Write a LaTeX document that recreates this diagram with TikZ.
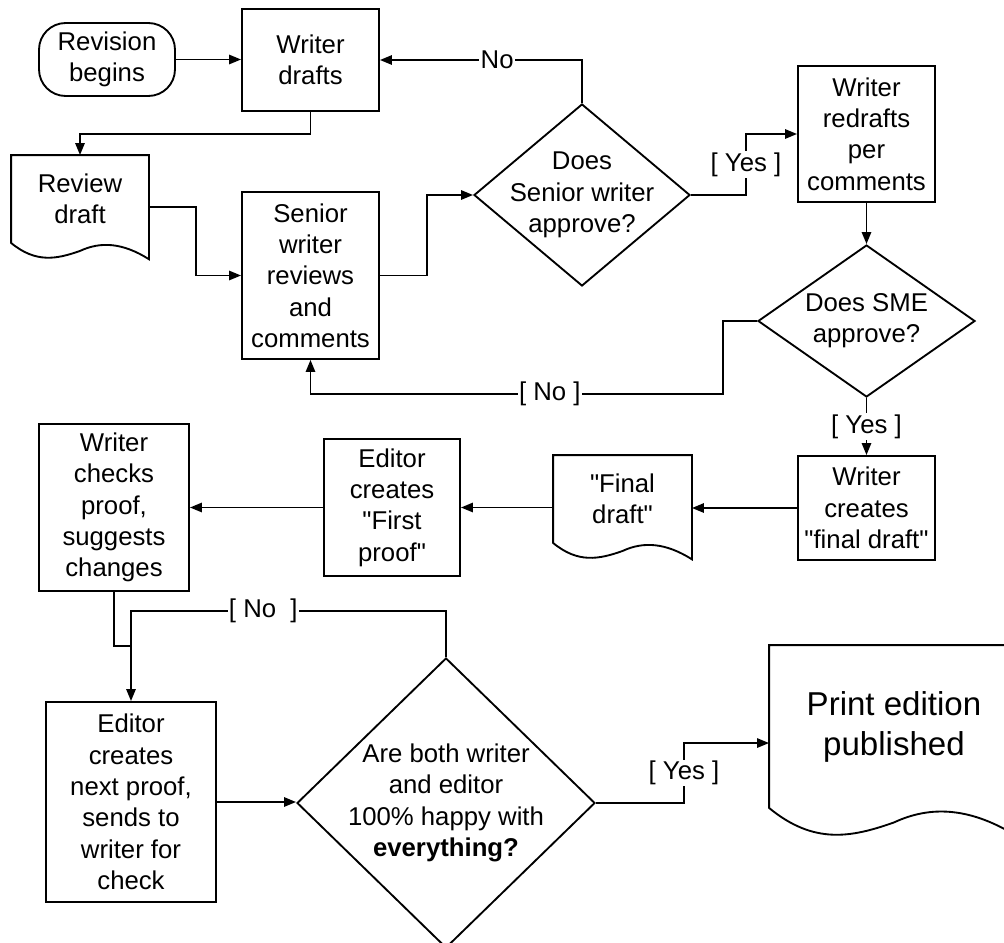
\documentclass[tikz,border=0pt]{standalone}
\usepackage{fontspec}
\setmainfont{Liberation Sans}
\usetikzlibrary{shapes.geometric,arrows.meta,calc}

\newcommand{\boxfont}{\fontsize{19.3pt}{23.5pt}\selectfont}
\newcommand{\bigfont}{\fontsize{24.8pt}{30pt}\selectfont}
\newcommand{\qq}{\XeTeXglyph\XeTeXcharglyph"22\relax}

% outline of a document node: straight top and sides, wavy bottom
\newcommand{\docwave}[1]{%
  \draw[conn] let \p1=(#1.south west), \p2=(#1.north east), \n1={\x2-\x1} in
    (\p1) -- (\x1,\y2) -- (\p2) -- (\x2,{\y1-0.118*\n1})
    .. controls ({\x2-0.19*\n1},{\y1+0.002*\n1}) and ({\x2-0.35*\n1},{\y1+0.012*\n1}) .. ({\x1+0.5*\n1},{\y1-0.058*\n1})
    .. controls ({\x1+0.33*\n1},{\y1-0.118*\n1}) and ({\x1+0.18*\n1},{\y1-0.148*\n1}) .. (\p1) -- cycle;}

\tikzset{
  conn/.style={line width=1.4pt},
  arr/.style={conn, -{Triangle[length=9pt,width=7pt]}},
  base/.style={draw, line width=1.4pt, align=center, font=\boxfont, inner sep=0pt},
  term/.style 2 args={base, rectangle, rounded corners=20pt, minimum width=#1*0.75pt, minimum height=#2*0.75pt},
  proc/.style 2 args={base, rectangle, minimum width=#1*0.75pt, minimum height=#2*0.75pt},
  doc/.style 2 args={base, draw=none, rectangle, minimum width=#1*0.75pt, minimum height=#2*0.75pt},
  decision/.style 2 args={base, diamond, inner sep=-12pt, minimum width=#1*0.75pt, minimum height=#2*0.75pt},
  lbl/.style={fill=white, inner sep=1pt, font=\boxfont},
}

\begin{document}
\begin{tikzpicture}[x=0.75pt,y=-0.75pt]
    \useasboundingbox (0,0) rectangle (1004,943);

    \node[term={136}{73}] (start) at (107,59.5) {Revision\\begins};
    \node[proc={137}{102}] (drafts) at (310.5,60) {Writer\\drafts};
    \node[doc={136}{86}] (review) at (80,199) {Review\\draft};
    \node[proc={137}{167}] (senior) at (310.5,275.5) {Senior\\writer\\reviews\\and\\comments};
    \node[decision={216}{182}] (q1) at (582,195) {Does\\Senior writer\\approve?};
    \node[proc={137}{136}] (redraft) at (866.5,134) {Writer\\redrafts\\per\\comments};
    \node[decision={217}{152}] (q2) at (866.5,321) {Does SME\\approve?};
    \node[proc={137}{104}] (create) at (866.5,508) {Writer\\creates\\\qq final draft\qq};
    \node[doc={137}{86}] (final) at (622.5,499) {\qq Final\\draft\qq};
    \node[proc={136}{137}] (proof1) at (392,507.5) {Editor\\creates\\\qq First\\proof\qq};
    \node[proc={150}{167}] (checks) at (114,507.5) {Writer\\checks\\proof,\\suggests\\changes};
    \node[proc={170}{200}] (nextp) at (131,802) {Editor\\creates\\next proof,\\sends to\\writer for\\check};
    \node[decision={298}{290}] (q3) at (446,803) {Are both writer\\and editor\\100\% happy with\\\textbf{everything?}};
    \node[doc={248}{161}, font=\bigfont] (print) at (894,726.5) {Print edition\\published};

    \docwave{review}
    \docwave{final}
    \docwave{print}

    \draw[arr] (start.east) -- (start.east -| drafts.west);
    \draw[arr] (drafts.south) -- ++(0,22) -| (review.north);
    \draw[arr] ([yshift=-6pt]review.east) -- ++(47,0) |- (senior.west);
    \draw[arr] (senior.east) -- ++(47,0) |- (q1.west);
    \draw[arr] (q1.north) |- node[lbl,pos=0.71]{No} (drafts.east);
    \draw[arr] (q1.east) -- ++(55,0) |- node[lbl,pos=0.25]{[ Yes ]} (redraft.west);
    \draw[arr] (redraft) -- (q2);
    \draw[arr] (q2.west) -- ++(-34,0) |- node[lbl,pos=0.71]{[ No ]} ([yshift=-25.5pt]senior.south) -- (senior.south);
    \draw[arr] (q2.south) -- node[lbl]{[ Yes ]} (create.north);
    \draw[arr] (create.west) -- (create.west -| final.east);
    \draw[arr] (final.west |- proof1.east) -- (proof1.east);
    \draw[arr] (proof1.west) -- (checks.east);

    \coordinate (join) at ([yshift=41.25pt]nextp.north);
    \draw[conn] (checks.south) |- (join);
    \draw[arr] (q3.north) |- node[lbl,pos=0.79]{[ No\ \ ]} ([yshift=67.5pt]nextp.north) -- (nextp.north);
    \draw[arr] (nextp.east) -- (nextp.east -| q3.west);
    \draw[arr] (q3.east) -- ++(88,0) |- node[lbl,pos=0.25]{[ Yes ]} ([yshift=-12.4pt]print.west);
\end{tikzpicture}
\end{document}
